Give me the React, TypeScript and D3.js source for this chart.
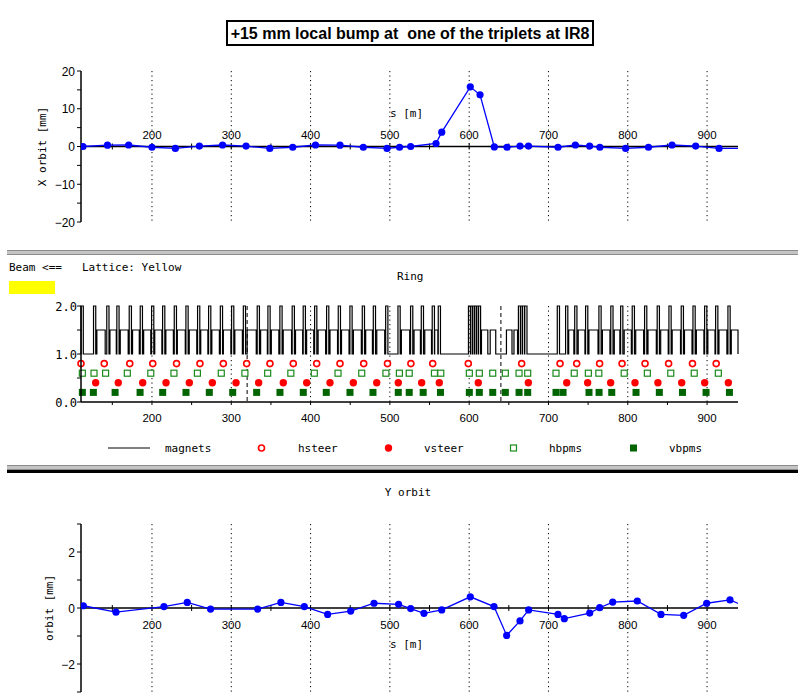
import React from 'react';
import * as d3 from 'd3';

// ---- longitudinal axis (s, metres) ----
const S_DOMAIN: [number, number] = [110.5, 939];
const S_LABELS = [200, 300, 400, 500, 600, 700, 800, 900];
const SECTOR_MARKS = [320, 640];

// ---- X orbit at the BPMs [mm] ----
const X_S = [113, 143.9, 170.6, 200, 229.5, 259.8, 289, 318.6, 348.6, 377.5, 406.2, 437.1, 466.5, 496.4, 512.2, 526.2, 558.2, 565.4, 601.4, 613.7, 631.7, 647.7, 664.1, 674.8, 712, 733.9, 751.9, 764.8, 797.3, 826.1, 855.8, 885.6, 915.1, 945];
const X_MM = [0, 0.35, 0.4, -0.2, -0.5, 0.1, 0.4, 0.1, -0.5, -0.2, 0.4, 0.35, -0.2, -0.5, -0.2, 0, 0.8, 3.8, 15.8, 13.7, -0.1, -0.2, 0.1, 0.1, -0.2, 0.4, 0.1, -0.2, -0.5, -0.2, 0.4, 0.1, -0.5, -0.5];
const X_TICKS_LABELED = [-20, -10, 0, 10, 20];

// ---- Y orbit at the BPMs [mm] ----
const Y_S = [113.4, 154.6, 215.1, 244.5, 273.9, 333.2, 362.6, 392.1, 421.5, 450.6, 480, 511, 526.2, 543, 565.4, 601.4, 631.3, 647.3, 664.1, 675, 712, 720, 752, 764.6, 781, 812, 841.9, 870.5, 899.5, 928.9, 945];
const Y_MM = [0.08, -0.15, 0.05, 0.2, -0.04, -0.04, 0.2, 0.05, -0.23, -0.11, 0.17, 0.13, -0.02, -0.19, -0.07, 0.4, 0.05, -0.98, -0.46, -0.07, -0.23, -0.38, -0.18, 0.01, 0.21, 0.25, -0.23, -0.26, 0.17, 0.29, 0.09];
const Y_TICKS_LABELED = [-2, 0, 2];

// ---- lattice: quadrupole centres and dipole extents [m] ----
const QUADS = [112, 127.7, 144.4, 157.1, 172.7, 186.6, 200.9, 214.8, 229.5, 244.2, 258.9, 272.8, 287.6, 301.8, 316.6, 334.1, 347.6, 362.7, 378.2, 392.1, 406.5, 421.6, 436.3, 451.0, 466.6, 480.5, 496.1, 511.6, 527.5, 541, 554.8, 562.4,
  600.5, 603, 605.5, 608, 610.5, 613,
  663.5, 666, 668.5, 671.5,
  712.5, 723, 734.5, 748.2, 765, 780, 792.4, 807, 822.6, 838.5, 853.3, 868.8, 883.6, 898.3, 912.2, 927.7];
const DIPOLES: [number, number][] = [
  [130.5, 141], [147, 155], [160, 170], [175.5, 184], [189.5, 198.5], [203.5, 212.5], [217.5, 227], [232, 242], [247, 256.5], [261.5, 270.5], [275.5, 285], [290, 299.5], [304.5, 314], [320, 331.5],
  [337, 345.5], [350.5, 360], [365.5, 376], [381, 390], [395, 404], [409.5, 419], [424.5, 434], [439, 448.5], [454, 464], [469.5, 478], [483.5, 493.5], [514.5, 525], [530.5, 538.5], [544, 552.5], [556.5, 560.5],
  [615.5, 623.5], [626.5, 633.5], [647, 654], [656.5, 661],
  [725.5, 732], [737.5, 746], [751, 762.5], [768, 777.5], [783, 790], [795.5, 804.5], [810, 820], [825.5, 836], [841.5, 851], [856, 866.5], [871.5, 881], [886.5, 896], [901, 910], [915, 925], [930.5, 939],
];
const HSTEER = [110.5, 139.8, 172, 201, 231, 260.5, 290, 319.4, 348.8, 378.2, 407.7, 437.1, 467, 497, 526.5, 554, 598.9, 666.2, 714.6, 735.6, 764.5, 792.8, 821.8, 851.5, 881.6, 911.5];
const VSTEER = [129, 157.5, 188.3, 217.7, 247.1, 276.1, 306, 334.5, 365.6, 395.1, 424.5, 453.9, 483.4, 510.6, 540.1, 562.3, 611.5, 674.6, 723, 749.4, 778.4, 809.1, 838, 868, 897, 926.8];
const HBPMS = [112.2, 126.9, 141.5, 168.9, 198.5, 227.7, 257.3, 287.4, 317.2, 345.9, 375.1, 404.7, 434.6, 464.5, 495, 512, 524.4, 556.2, 564.2, 600.2, 612.8, 629.7, 645.6, 662.9, 673.8, 709.5, 732.5, 750.3, 763.5, 795.5, 824.7, 854.2, 883.8, 914.2];
const VBPMS = [112.2, 126.1, 153.5, 185, 213.5, 242.9, 272.3, 301.8, 332, 361.4, 390.8, 419.8, 449.7, 478.7, 510.6, 524.4, 542, 563.8, 600.2, 612.8, 629.7, 645.6, 662.9, 673.8, 709.5, 718.4, 751.1, 763.8, 779.8, 810.4, 839.8, 869, 898.7, 928.2];
const RING_TICKS_LABELED = [0, 1, 2];

const MONO = "'DejaVu Sans Mono', monospace";
const SANS = "'Liberation Sans', Arial, sans-serif";
const BLUE = '#0000ff';
const RED = '#ff0000';
const GREEN_OPEN = '#1a8a1a';
const GREEN_FILL = '#006400';

const xS = d3.scaleLinear().domain(S_DOMAIN).range([81, 738]);
const yTop = d3.scaleLinear().domain([-20, 20]).range([222, 71]);
const yRing = d3.scaleLinear().domain([0, 2]).range([402, 306]);
const yBot = d3.scaleLinear().domain([-3, 3]).range([692, 524]);

const minorS = d3.range(150, 901, 50);

function Grid({ y0, y1 }: { y0: number; y1: number }) {
  return (
    <g>
      {S_LABELS.map((s) => (
        <line key={s} x1={xS(s)} x2={xS(s)} y1={y0} y2={y1} stroke="#000" strokeWidth={1} strokeDasharray="1.2,3.3" />
      ))}
    </g>
  );
}

function OrbitPanel({ id, y, s, v, labeled, minorStep, ylabel, labelX, title, sLabelY, tickLabelDy, axisTitleY }: any) {
  const [d0, d1] = y.domain();
  const top = y(d1);
  const bottom = y(d0);
  const y0 = y(0);
  const line = d3.line<number>().x((_, i) => xS(s[i])).y((d) => y(d));
  const yTicks = d3.range(d0, d1 + 1e-9, minorStep);
  return (
    <g>
      <defs>
        <clipPath id={id}>
          <rect x={xS(S_DOMAIN[0])} y={top - 6} width={xS(S_DOMAIN[1]) - xS(S_DOMAIN[0])} height={bottom - top + 12} />
        </clipPath>
      </defs>
      <Grid y0={top} y1={bottom} />
      {title && (
        <text x={408} y={axisTitleY} fontFamily={MONO} fontSize={11} textAnchor="middle">{title}</text>
      )}
      {/* y axis */}
      <line x1={81} x2={81} y1={top} y2={bottom} stroke="#000" strokeWidth={1.5} />
      {yTicks.map((t: number) => (
        <line key={t} x1={77} x2={81} y1={y(t)} y2={y(t)} stroke="#000" />
      ))}
      {labeled.map((t: number) => (
        <text key={t} x={75} y={y(t) + 4.5} fontFamily={SANS} fontSize={12} textAnchor="end">{t < 0 ? '\u2212' + Math.abs(t) : t}</text>
      ))}
      <text transform={`translate(${labelX},${(top + bottom) / 2}) rotate(-90)`} fontFamily={MONO} fontSize={11} textAnchor="middle">{ylabel}</text>
      {/* s axis through zero */}
      <line x1={81} x2={738} y1={y0} y2={y0} stroke="#000" strokeWidth={1.5} />
      {minorS.map((t) => (
        <line key={t} x1={xS(t)} x2={xS(t)} y1={y0 - 3} y2={y0 + 3} stroke="#000" />
      ))}
      {S_LABELS.map((t) => (
        <text key={t} x={xS(t)} y={y0 + tickLabelDy} fontFamily={SANS} fontSize={11.5} textAnchor="middle">{t}</text>
      ))}
      <text x={390} y={sLabelY} fontFamily={MONO} fontSize={11}>s [m]</text>
      <g clipPath={`url(#${id})`}>
        <path d={line(v) || ''} fill="none" stroke={BLUE} strokeWidth={1.3} />
        {v.map((d: number, i: number) => (
          <circle key={i} cx={xS(s[i])} cy={y(d)} r={3.6} fill={BLUE} />
        ))}
      </g>
    </g>
  );
}

function HCircle({ cx, cy }: { cx: number; cy: number }) {
  return <circle cx={cx} cy={cy} r={3} fill="#fff" stroke={RED} strokeWidth={1.6} />;
}
function VDot({ cx, cy }: { cx: number; cy: number }) {
  return <circle cx={cx} cy={cy} r={3.7} fill={RED} />;
}
function HSquare({ cx, cy }: { cx: number; cy: number }) {
  return <rect x={cx - 3} y={cy - 3} width={6} height={6} fill="#fff" stroke={GREEN_OPEN} strokeWidth={1.2} />;
}
function VSquare({ cx, cy }: { cx: number; cy: number }) {
  return <rect x={cx - 3.5} y={cy - 3.5} width={7} height={7} fill={GREEN_FILL} />;
}

function RingPanel() {
  const QW = 2.8;
  const elems = [
    ...QUADS.map((q) => ({ a: q - QW / 2, b: q + QW / 2, lv: 2 })),
    ...DIPOLES.map(([a, b]) => ({ a, b, lv: 1.5 })),
  ].sort((p, q) => p.a - q.a);
  const pts: [number, number][] = [[S_DOMAIN[0], 1]];
  elems.forEach((e) => {
    pts.push([e.a, 1], [e.a, e.lv], [e.b, e.lv], [e.b, 1]);
  });
  pts.push([S_DOMAIN[1], 1]);
  const magnetLine = d3.line<[number, number]>().x((d) => xS(d[0])).y((d) => yRing(d[1]));
  const top = yRing(2);
  const bottom = yRing(0);
  const ringTicks = d3.range(0, 2.0001, 0.5);
  return (
    <g>
      <text x={9} y={270.5} fontFamily={MONO} fontSize={11}>Beam &lt;==</text>
      <text x={82} y={270.5} fontFamily={MONO} fontSize={11}>Lattice: Yellow</text>
      <rect x={9} y={281} width={46} height={13} fill="#ffff00" />
      <text x={397} y={280} fontFamily={MONO} fontSize={11}>Ring</text>
      <Grid y0={top} y1={bottom} />
      {SECTOR_MARKS.map((s) => (
        <line key={s} x1={xS(s)} x2={xS(s)} y1={top} y2={bottom} stroke="#000" strokeDasharray="4,3" />
      ))}
      <path d={magnetLine(pts) || ''} fill="none" stroke="#000" strokeWidth={1.2} />
      {HSTEER.map((s, i) => <HCircle key={i} cx={xS(s)} cy={yRing(0.8)} />)}
      {HBPMS.map((s, i) => <HSquare key={i} cx={xS(s)} cy={yRing(0.6)} />)}
      {VSTEER.map((s, i) => <VDot key={i} cx={xS(s)} cy={yRing(0.4)} />)}
      {VBPMS.map((s, i) => <VSquare key={i} cx={xS(s)} cy={yRing(0.2)} />)}
      {/* axes */}
      <line x1={81} x2={81} y1={top} y2={bottom} stroke="#000" strokeWidth={1.5} />
      {ringTicks.map((t) => (
        <line key={t} x1={77} x2={81} y1={yRing(t)} y2={yRing(t)} stroke="#000" />
      ))}
      {RING_TICKS_LABELED.map((t) => (
        <text key={t} x={77} y={yRing(t) + 4.5} fontFamily={MONO} fontSize={12} textAnchor="end">{t.toFixed(1)}</text>
      ))}
      <line x1={81} x2={738} y1={bottom} y2={bottom} stroke="#000" strokeWidth={1.5} />
      {minorS.map((t) => (
        <line key={t} x1={xS(t)} x2={xS(t)} y1={bottom} y2={bottom + 3} stroke="#000" />
      ))}
      {S_LABELS.map((t) => (
        <text key={t} x={xS(t)} y={422} fontFamily={SANS} fontSize={11.5} textAnchor="middle">{t}</text>
      ))}
      {/* legend */}
      <line x1={108} x2={150} y1={448} y2={448} stroke="#000" />
      <text x={165} y={452} fontFamily={MONO} fontSize={11}>magnets</text>
      <HCircle cx={261.5} cy={448} />
      <text x={298} y={452} fontFamily={MONO} fontSize={11}>hsteer</text>
      <VDot cx={388.5} cy={448} />
      <text x={424} y={452} fontFamily={MONO} fontSize={11}>vsteer</text>
      <HSquare cx={513.5} cy={448} />
      <text x={549} y={452} fontFamily={MONO} fontSize={11}>hbpms</text>
      <VSquare cx={633.5} cy={448} />
      <text x={669} y={452} fontFamily={MONO} fontSize={11}>vbpms</text>
    </g>
  );
}

function Separator({ y, dark }: { y: number; dark?: boolean }) {
  return (
    <g>
      <rect x={7} y={y} width={791} height={5} fill="#c4c4c4" />
      <line x1={7} x2={798} y1={y + 0.5} y2={y + 0.5} stroke="#8c8c8c" />
      <line x1={7} x2={798} y1={y + 4.5} y2={y + 4.5} stroke="#8c8c8c" />
      {dark && <rect x={7} y={y + 5} width={791} height={3} fill="#000" />}
    </g>
  );
}

export default function App() {
  return (
    <svg width={798} height={700} style={{ position: 'absolute', left: 0, top: 0, background: '#fff' }}>
      <rect width={798} height={700} fill="#fff" />
      <rect x={227} y={21} width={366} height={24} fill="#fff" stroke="#000" strokeWidth={2} />
      <text x={410} y={39} fontFamily={SANS} fontWeight="bold" fontSize={16} textAnchor="middle" style={{ whiteSpace: 'pre' }}>
        {'+15 mm local bump at  one of the triplets at IR8'}
      </text>
      <OrbitPanel id="clipX" y={yTop} s={X_S} v={X_MM} labeled={X_TICKS_LABELED} minorStep={5}
        ylabel="X orbit [mm]" labelX={46} sLabelY={117} tickLabelDy={-8} />
      <Separator y={250} />
      <RingPanel />
      <Separator y={465} dark />
      <OrbitPanel id="clipY" y={yBot} s={Y_S} v={Y_MM} labeled={Y_TICKS_LABELED} minorStep={1}
        ylabel="orbit [mm]" labelX={53} sLabelY={648} tickLabelDy={21} title="Y orbit" axisTitleY={496} />
    </svg>
  );
}
